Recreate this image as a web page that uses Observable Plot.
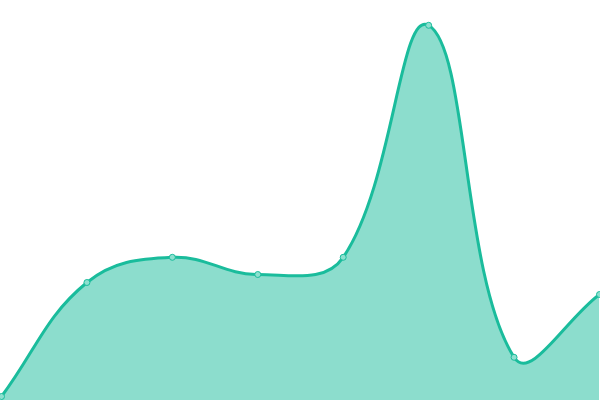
<!DOCTYPE html>
<html>
<head>
<meta charset="utf-8">
<script src="https://cdn.jsdelivr.net/npm/d3@7"></script>
<script src="https://cdn.jsdelivr.net/npm/@observablehq/plot@0.6"></script>
<style>
  html, body { margin: 0; padding: 0; background: #fff; }
  #chart svg { display: block; }
</style>
</head>
<body>
<div id="chart"></div>
<script>
const indices = [0, 1, 2, 3, 4, 5, 6, 7];
const values = [1, 29.5, 35.8, 31.5, 35.8, 93.8, 10.8, 26.5];

const data = indices.map((i, k) => ({ x: i, y: values[k] }));

// Distance-weighted spline (tension-based), control points kept inside the plot area
function splineCurve(t, x0, x1, y0, y1) {
  const clamp = (v, a, b) => Math.max(a, Math.min(b, v));
  return (context) => ({
    areaStart() { this._line = 0; },
    areaEnd() { this._line = NaN; },
    lineStart() { this._pts = []; },
    point(x, y) { this._pts.push([+x, +y]); },
    lineEnd() {
      const p = this._pts, n = p.length;
      if (n) {
        if (this._line) context.lineTo(p[0][0], p[0][1]);
        else context.moveTo(p[0][0], p[0][1]);
        const cp = p.map((cur, i) => {
          const prev = p[Math.max(0, i - 1)], next = p[Math.min(n - 1, i + 1)];
          const d01 = Math.hypot(cur[0] - prev[0], cur[1] - prev[1]);
          const d12 = Math.hypot(next[0] - cur[0], next[1] - cur[1]);
          let s01 = d01 / (d01 + d12), s12 = d12 / (d01 + d12);
          if (!isFinite(s01)) s01 = 0;
          if (!isFinite(s12)) s12 = 0;
          const fa = t * s01, fb = t * s12;
          const dx = next[0] - prev[0], dy = next[1] - prev[1];
          return {
            px: clamp(cur[0] - fa * dx, x0, x1), py: clamp(cur[1] - fa * dy, y0, y1),
            nx: clamp(cur[0] + fb * dx, x0, x1), ny: clamp(cur[1] + fb * dy, y0, y1)
          };
        });
        for (let i = 1; i < n; ++i) {
          context.bezierCurveTo(cp[i - 1].nx, cp[i - 1].ny, cp[i].px, cp[i].py, p[i][0], p[i][1]);
        }
      }
      if (this._line || (this._line !== 0 && n === 1)) context.closePath();
      this._line = 1 - this._line;
    }
  });
}

const curve = splineCurve(0.4, 0, 600, 0, 400);

const chart = Plot.plot({
  width: 600,
  height: 400,
  margin: 0,
  x: { domain: [0, 7], range: [1, 599], axis: null },
  y: { domain: [0, 100], range: [400, 0], axis: null },
  marks: [
    Plot.areaY(data, { x: "x", y: "y", curve, fill: "#1abc9c", fillOpacity: 0.5 }),
    Plot.lineY(data, { x: "x", y: "y", curve, stroke: "#1abc9c", strokeWidth: 3 }),
    Plot.dot(data, { x: "x", y: "y", r: 3, fill: "#8de0cf", stroke: "#1abc9c", strokeWidth: 1 })
  ]
});
document.getElementById("chart").appendChild(chart);
</script>
</body>
</html>
